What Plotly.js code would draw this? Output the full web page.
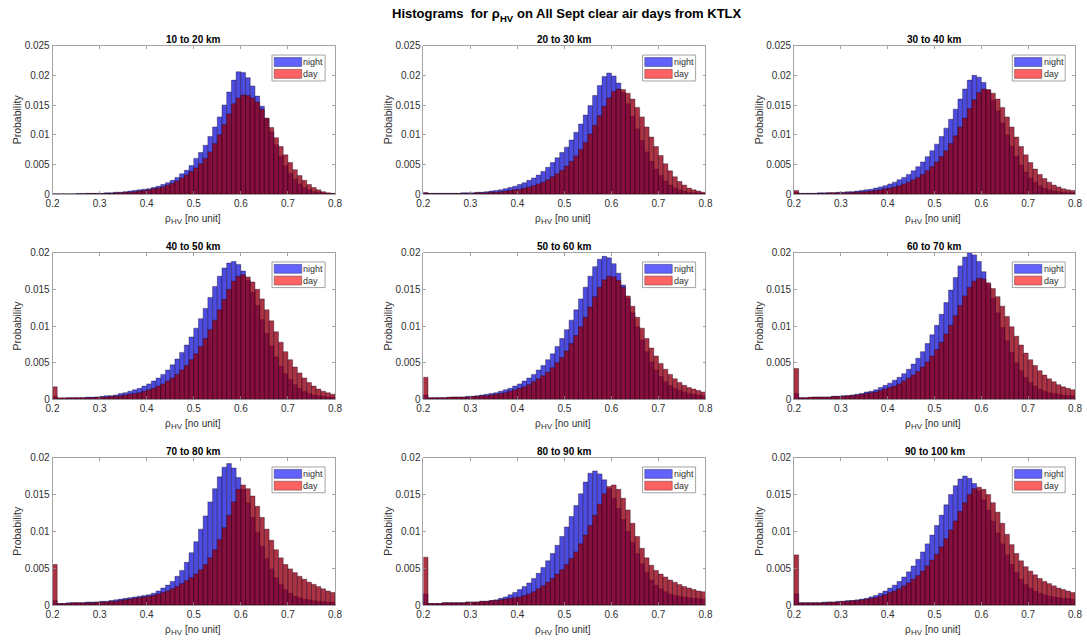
<!DOCTYPE html>
<html>
<head>
<meta charset="utf-8">
<script src="https://cdn.plot.ly/plotly-3.0.1.min.js"></script>
<style>html,body{margin:0;padding:0;background:#fff;}#chart{width:1087px;height:640px;}</style>
</head>
<body>
<div id="chart"></div>
<script>
// Bin centres of rho_HV (bin width 0.01)
const binCenters = [0.205,0.215,0.225,0.235,0.245,0.255,0.265,0.275,0.285,0.295,
0.305,0.315,0.325,0.335,0.345,0.355,0.365,0.375,0.385,0.395,
0.405,0.415,0.425,0.435,0.445,0.455,0.465,0.475,0.485,0.495,
0.505,0.515,0.525,0.535,0.545,0.555,0.565,0.575,0.585,0.595,
0.605,0.615,0.625,0.635,0.645,0.655,0.665,0.675,0.685,0.695,
0.705,0.715,0.725,0.735,0.745,0.755,0.765,0.775,0.785,0.795];

const panelTitles = ['10 to 20 km','20 to 30 km','30 to 40 km','40 to 50 km','50 to 60 km','60 to 70 km','70 to 80 km','80 to 90 km','90 to 100 km'];
const seriesNames = ['night','day'];
const xTickVals = [0.2,0.3,0.4,0.5,0.6,0.7,0.8];
const xTickText = ['0.2','0.3','0.4','0.5','0.6','0.7','0.8'];
const yTickValsTop = [0,0.005,0.01,0.015,0.02,0.025];
const yTickTextTop = ['0','0.005','0.01','0.015','0.02','0.025'];
const yTickVals = [0,0.005,0.01,0.015,0.02];
const yTickText = ['0','0.005','0.01','0.015','0.02'];

const night10 = [0,0,0,0,0,0.0001,0.0001,0.0001,0.0001,0.0001,
0.0001,0.0002,0.0002,0.0003,0.0003,0.0004,0.0005,0.0006,0.0007,0.0008,
0.0009,0.0011,0.0013,0.0016,0.0019,0.0023,0.0028,0.0034,0.0040,0.0048,
0.0060,0.0070,0.0082,0.0097,0.0113,0.0130,0.0150,0.0172,0.0192,0.0206,
0.0205,0.0196,0.0182,0.0165,0.0148,0.0127,0.0105,0.0083,0.0064,0.0048,
0.0035,0.0025,0.0017,0.0011,0.0007,0.0004,0.0003,0.0002,0.0001,0.0001];
const day10 = [0,0,0,0,0,0,0,0.0001,0.0001,0.0001,
0.0001,0.0001,0.0001,0.0002,0.0002,0.0003,0.0003,0.0004,0.0005,0.0006,
0.0007,0.0009,0.0010,0.0012,0.0015,0.0018,0.0022,0.0027,0.0032,0.0038,
0.0044,0.0051,0.0060,0.0071,0.0085,0.0100,0.0117,0.0135,0.0152,0.0162,
0.0167,0.0166,0.0162,0.0155,0.0143,0.0128,0.0112,0.0095,0.0080,0.0066,
0.0053,0.0041,0.0031,0.0023,0.0016,0.0011,0.0007,0.0004,0.0002,0.0001];

const night20 = [0.0002,0.0001,0.0001,0.0001,0.0001,0.0001,0.0001,0.0001,0.0002,0.0002,
0.0002,0.0003,0.0003,0.0004,0.0005,0.0006,0.0007,0.0009,0.0011,0.0013,
0.0016,0.0019,0.0023,0.0027,0.0032,0.0038,0.0045,0.0053,0.0061,0.0070,
0.0079,0.0091,0.0104,0.0118,0.0133,0.0149,0.0166,0.0183,0.0198,0.0204,
0.0199,0.0187,0.0171,0.0152,0.0131,0.0110,0.0090,0.0071,0.0055,0.0042,
0.0031,0.0022,0.0015,0.0010,0.0007,0.0005,0.0003,0.0002,0.0002,0.0001];
const day20 = [0.0002,0.0001,0.0001,0.0001,0.0001,0.0001,0.0001,0.0001,0.0001,0.0001,
0.0001,0.0002,0.0002,0.0002,0.0003,0.0003,0.0004,0.0005,0.0006,0.0007,
0.0008,0.0010,0.0012,0.0014,0.0017,0.0020,0.0024,0.0029,0.0034,0.0040,
0.0047,0.0055,0.0064,0.0075,0.0087,0.0101,0.0116,0.0132,0.0148,0.0162,
0.0173,0.0177,0.0176,0.0170,0.0160,0.0146,0.0130,0.0113,0.0096,0.0080,
0.0065,0.0051,0.0039,0.0029,0.0021,0.0015,0.0010,0.0007,0.0005,0.0003];

const night30 = [0.0003,0.0001,0.0001,0.0001,0.0001,0.0002,0.0002,0.0002,0.0002,0.0003,
0.0003,0.0004,0.0004,0.0005,0.0006,0.0007,0.0008,0.0010,0.0012,0.0014,
0.0017,0.0020,0.0024,0.0028,0.0033,0.0039,0.0046,0.0054,0.0063,0.0073,
0.0084,0.0097,0.0111,0.0126,0.0143,0.0160,0.0177,0.0192,0.0200,0.0197,
0.0188,0.0175,0.0158,0.0140,0.0120,0.0100,0.0081,0.0064,0.0049,0.0037,
0.0027,0.0020,0.0014,0.0010,0.0007,0.0005,0.0004,0.0003,0.0002,0.0002];
const day30 = [0.0006,0.0001,0.0001,0.0001,0.0001,0.0001,0.0001,0.0002,0.0002,0.0002,
0.0002,0.0002,0.0003,0.0003,0.0004,0.0004,0.0005,0.0006,0.0007,0.0009,
0.0010,0.0012,0.0014,0.0017,0.0020,0.0024,0.0028,0.0033,0.0039,0.0046,
0.0054,0.0063,0.0073,0.0085,0.0098,0.0113,0.0128,0.0144,0.0159,0.0171,
0.0177,0.0176,0.0170,0.0160,0.0146,0.0130,0.0113,0.0096,0.0080,0.0066,
0.0053,0.0042,0.0033,0.0026,0.0020,0.0015,0.0012,0.0009,0.0007,0.0006];

const night40 = [0.0004,0.0001,0.0001,0.0002,0.0002,0.0002,0.0002,0.0003,0.0003,0.0003,
0.0004,0.0005,0.0005,0.0006,0.0008,0.0009,0.0011,0.0013,0.0015,0.0018,
0.0021,0.0025,0.0029,0.0034,0.0040,0.0047,0.0055,0.0064,0.0074,0.0085,
0.0097,0.0110,0.0124,0.0139,0.0154,0.0168,0.0179,0.0186,0.0188,0.0184,
0.0175,0.0162,0.0146,0.0128,0.0109,0.0090,0.0073,0.0058,0.0045,0.0035,
0.0027,0.0020,0.0015,0.0011,0.0008,0.0006,0.0005,0.0004,0.0003,0.0003];
const day40 = [0.0017,0.0002,0.0002,0.0002,0.0002,0.0002,0.0002,0.0002,0.0002,0.0003,
0.0003,0.0003,0.0004,0.0004,0.0005,0.0006,0.0007,0.0008,0.0009,0.0011,
0.0013,0.0015,0.0018,0.0021,0.0025,0.0029,0.0034,0.0040,0.0046,0.0054,
0.0062,0.0072,0.0083,0.0095,0.0108,0.0122,0.0136,0.0150,0.0161,0.0168,
0.0170,0.0167,0.0160,0.0150,0.0137,0.0122,0.0107,0.0092,0.0078,0.0065,
0.0054,0.0044,0.0036,0.0029,0.0023,0.0018,0.0014,0.0011,0.0009,0.0007];

const night50 = [0.0006,0.0002,0.0002,0.0002,0.0002,0.0002,0.0003,0.0003,0.0003,0.0004,
0.0004,0.0005,0.0006,0.0007,0.0008,0.0009,0.0011,0.0013,0.0015,0.0018,
0.0021,0.0025,0.0029,0.0034,0.0040,0.0046,0.0054,0.0062,0.0072,0.0083,
0.0095,0.0108,0.0122,0.0137,0.0153,0.0168,0.0181,0.0191,0.0195,0.0193,
0.0185,0.0172,0.0156,0.0138,0.0118,0.0099,0.0081,0.0065,0.0051,0.0040,
0.0031,0.0024,0.0019,0.0015,0.0012,0.0010,0.0008,0.0007,0.0006,0.0005];
const day50 = [0.0030,0.0002,0.0002,0.0002,0.0002,0.0003,0.0003,0.0003,0.0003,0.0003,
0.0004,0.0004,0.0005,0.0005,0.0006,0.0007,0.0008,0.0009,0.0011,0.0013,
0.0015,0.0017,0.0020,0.0024,0.0028,0.0032,0.0037,0.0043,0.0050,0.0057,
0.0066,0.0076,0.0087,0.0099,0.0112,0.0126,0.0140,0.0153,0.0163,0.0168,
0.0167,0.0162,0.0153,0.0141,0.0127,0.0112,0.0097,0.0083,0.0070,0.0059,
0.0049,0.0041,0.0034,0.0028,0.0023,0.0019,0.0016,0.0014,0.0012,0.0010];

const night60 = [0.0008,0.0002,0.0002,0.0002,0.0003,0.0003,0.0003,0.0003,0.0004,0.0004,
0.0005,0.0005,0.0006,0.0007,0.0008,0.0010,0.0011,0.0013,0.0016,0.0019,
0.0022,0.0026,0.0030,0.0035,0.0041,0.0048,0.0056,0.0065,0.0076,0.0088,
0.0101,0.0116,0.0132,0.0149,0.0166,0.0182,0.0194,0.0200,0.0197,0.0188,
0.0174,0.0157,0.0138,0.0118,0.0098,0.0080,0.0064,0.0050,0.0039,0.0030,
0.0023,0.0018,0.0014,0.0011,0.0009,0.0008,0.0007,0.0006,0.0005,0.0005];
const day60 = [0.0042,0.0002,0.0002,0.0003,0.0003,0.0003,0.0003,0.0003,0.0004,0.0004,
0.0004,0.0005,0.0005,0.0006,0.0007,0.0008,0.0009,0.0010,0.0012,0.0014,
0.0016,0.0018,0.0021,0.0025,0.0029,0.0033,0.0038,0.0044,0.0051,0.0059,
0.0068,0.0078,0.0089,0.0101,0.0114,0.0128,0.0141,0.0153,0.0161,0.0165,
0.0164,0.0159,0.0151,0.0140,0.0127,0.0113,0.0099,0.0086,0.0074,0.0063,
0.0054,0.0046,0.0039,0.0033,0.0028,0.0024,0.0020,0.0017,0.0015,0.0013];

const night70 = [0.0006,0.0002,0.0002,0.0003,0.0003,0.0003,0.0003,0.0004,0.0004,0.0004,
0.0005,0.0005,0.0006,0.0007,0.0008,0.0009,0.0010,0.0011,0.0012,0.0013,
0.0014,0.0016,0.0019,0.0023,0.0027,0.0032,0.0039,0.0047,0.0058,0.0071,
0.0086,0.0103,0.0121,0.0140,0.0158,0.0174,0.0187,0.0192,0.0186,0.0173,
0.0157,0.0139,0.0119,0.0099,0.0080,0.0063,0.0049,0.0037,0.0028,0.0021,
0.0016,0.0012,0.0010,0.0008,0.0007,0.0006,0.0005,0.0005,0.0004,0.0004];
const day70 = [0.0055,0.0002,0.0002,0.0002,0.0003,0.0003,0.0003,0.0003,0.0003,0.0004,
0.0004,0.0004,0.0005,0.0005,0.0006,0.0007,0.0008,0.0009,0.0010,0.0011,
0.0012,0.0013,0.0015,0.0017,0.0019,0.0022,0.0025,0.0029,0.0033,0.0037,
0.0042,0.0048,0.0055,0.0064,0.0075,0.0089,0.0105,0.0122,0.0140,0.0157,
0.0163,0.0158,0.0148,0.0134,0.0119,0.0103,0.0088,0.0075,0.0064,0.0055,
0.0049,0.0044,0.0039,0.0035,0.0031,0.0028,0.0025,0.0022,0.0019,0.0017];

const night80 = [0.0015,0.0002,0.0002,0.0002,0.0003,0.0003,0.0003,0.0003,0.0003,0.0004,
0.0004,0.0004,0.0005,0.0005,0.0006,0.0007,0.0009,0.0011,0.0014,0.0017,
0.0021,0.0025,0.0030,0.0036,0.0043,0.0051,0.0060,0.0070,0.0081,0.0093,
0.0106,0.0120,0.0135,0.0151,0.0167,0.0179,0.0182,0.0178,0.0170,0.0158,
0.0145,0.0131,0.0116,0.0100,0.0085,0.0070,0.0056,0.0044,0.0034,0.0027,
0.0022,0.0018,0.0015,0.0013,0.0012,0.0011,0.0010,0.0009,0.0009,0.0008];
const day80 = [0.0065,0.0002,0.0002,0.0002,0.0003,0.0003,0.0003,0.0003,0.0003,0.0004,
0.0004,0.0004,0.0005,0.0005,0.0006,0.0006,0.0007,0.0008,0.0009,0.0010,
0.0011,0.0013,0.0015,0.0018,0.0022,0.0026,0.0031,0.0036,0.0042,0.0048,
0.0055,0.0063,0.0072,0.0083,0.0095,0.0108,0.0122,0.0137,0.0151,0.0161,
0.0163,0.0157,0.0145,0.0129,0.0111,0.0093,0.0077,0.0064,0.0054,0.0047,
0.0042,0.0038,0.0034,0.0031,0.0028,0.0025,0.0023,0.0021,0.0019,0.0018];

const night90 = [0.0015,0.0003,0.0003,0.0003,0.0003,0.0003,0.0004,0.0004,0.0004,0.0005,
0.0005,0.0006,0.0006,0.0007,0.0008,0.0009,0.0011,0.0013,0.0016,0.0019,
0.0023,0.0027,0.0032,0.0038,0.0045,0.0053,0.0062,0.0072,0.0083,0.0095,
0.0108,0.0122,0.0136,0.0150,0.0162,0.0171,0.0175,0.0172,0.0165,0.0155,
0.0143,0.0129,0.0114,0.0098,0.0083,0.0068,0.0055,0.0044,0.0035,0.0028,
0.0023,0.0019,0.0016,0.0014,0.0012,0.0011,0.0010,0.0009,0.0009,0.0008];
const day90 = [0.0068,0.0003,0.0003,0.0003,0.0003,0.0003,0.0003,0.0004,0.0004,0.0004,
0.0005,0.0005,0.0006,0.0006,0.0007,0.0008,0.0009,0.0010,0.0012,0.0014,
0.0017,0.0019,0.0022,0.0026,0.0030,0.0035,0.0040,0.0046,0.0053,0.0061,
0.0069,0.0079,0.0090,0.0102,0.0114,0.0127,0.0139,0.0150,0.0158,0.0160,
0.0157,0.0150,0.0139,0.0126,0.0111,0.0096,0.0082,0.0070,0.0060,0.0052,
0.0046,0.0041,0.0036,0.0032,0.0029,0.0026,0.0023,0.0021,0.0019,0.0017];

const nightSeries = [night10,night20,night30,night40,night50,night60,night70,night80,night90];
const daySeries = [day10,day20,day30,day40,day50,day60,day70,day80,day90];

// ---- layout geometry (pixels of the 1087x640 figure) ----
const W = 1087, H = 640;
const colPx = [[52.5,335],[423.3,705.5],[794,1075]];
const rowPx = [[45.7,194],[252.7,399.3],[457.7,605]];

const FONT = 'Liberation Sans, Arial, Helvetica, sans-serif';
const AXC = '#8c8c8c';
const TXC = '#303030';

const NIGHT_FILL = 'rgb(76,76,224)';
const DAY_FILL = 'rgba(150,0,20,0.8)';
const EDGE = 'rgba(20,0,30,0.6)';

const traces = [];
const layout = {
  width: W, height: H,
  margin: {l:0,r:0,t:0,b:0},
  paper_bgcolor: '#ffffff', plot_bgcolor: '#ffffff',
  barmode: 'overlay', bargap: 0,
  showlegend: false,
  font: {family: FONT, color: TXC, size: 10},
  shapes: [], annotations: []
};

function note(o) { return Object.assign({showarrow: false, borderpad: 0, borderwidth: 0}, o); }

// Figure title, composed so that "HV" sits as a subscript of rho
const titleJoinX = 499.5;
layout.annotations.push(note({text: '<b>Histograms\u00a0 for \u03c1</b>', xref: 'paper', yref: 'paper',
  x: titleJoinX / W, y: 1 - 14/H, xanchor: 'right', yanchor: 'middle',
  font: {family: FONT, size: 13, color: '#000'}}));
layout.annotations.push(note({text: '<b>HV</b>', xref: 'paper', yref: 'paper',
  x: (titleJoinX + 0.5) / W, y: 1 - 18.5/H, xanchor: 'left', yanchor: 'middle',
  font: {family: FONT, size: 9.5, color: '#000'}}));
layout.annotations.push(note({text: '<b>on All Sept clear air days from KTLX</b>', xref: 'paper', yref: 'paper',
  x: (titleJoinX + 13.6 + 3.8) / W, y: 1 - 14/H, xanchor: 'left', yanchor: 'middle',
  font: {family: FONT, size: 13, color: '#000'}}));

for (let i = 0; i < 9; i++) {
  const r = Math.floor(i/3), c = i % 3;
  const n = i === 0 ? '' : String(i+1);
  const xa = 'x' + n, ya = 'y' + n;
  const xd = xa + ' domain', yd = ya + ' domain';
  const top = r === 0;
  traces.push({
    type: 'bar', x: binCenters, y: nightSeries[i], width: 0.01,
    name: seriesNames[0], xaxis: xa, yaxis: ya,
    marker: {color: NIGHT_FILL, line: {color: EDGE, width: 0.6}},
    hoverinfo: 'x+y+name'
  });
  traces.push({
    type: 'bar', x: binCenters, y: daySeries[i], width: 0.01,
    name: seriesNames[1], xaxis: xa, yaxis: ya,
    marker: {color: DAY_FILL, line: {color: EDGE, width: 0.6}},
    hoverinfo: 'x+y+name'
  });
  layout['xaxis' + n] = {
    domain: [colPx[c][0]/W, colPx[c][1]/W], anchor: ya,
    range: [0.2, 0.8], tickvals: xTickVals, ticktext: xTickText,
    ticks: 'inside', ticklen: 3, tickwidth: 0.8, tickcolor: AXC,
    showline: true, linecolor: AXC, linewidth: 0.8, mirror: 'ticks',
    showgrid: false, zeroline: false,
    tickfont: {family: FONT, size: 10, color: TXC}
  };
  layout['yaxis' + n] = {
    domain: [1-rowPx[r][1]/H, 1-rowPx[r][0]/H], anchor: xa,
    range: top ? [0, 0.025] : [0, 0.02],
    tickvals: top ? yTickValsTop : yTickVals, ticktext: top ? yTickTextTop : yTickText,
    ticks: 'inside', ticklen: 3, tickwidth: 0.8, tickcolor: AXC,
    showline: true, linecolor: AXC, linewidth: 0.8, mirror: 'ticks',
    showgrid: false, zeroline: false,
    tickfont: {family: FONT, size: 10, color: TXC},
    title: {text: 'Probability', font: {family: FONT, size: 10.5, color: TXC}, standoff: 0}
  };
  // x-axis label: rho with subscript HV, then [no unit]
  layout.annotations.push(note({text: '\u03c1', xref: xd, yref: yd, x: 0.5, y: 0,
    xanchor: 'right', yanchor: 'middle', xshift: -23.2, yshift: -24.3,
    font: {family: FONT, size: 10, color: TXC}}));
  layout.annotations.push(note({text: 'HV', xref: xd, yref: yd, x: 0.5, y: 0,
    xanchor: 'left', yanchor: 'middle', xshift: -23.2, yshift: -27.5,
    font: {family: FONT, size: 8, color: TXC}}));
  layout.annotations.push(note({text: '[no unit]', xref: xd, yref: yd, x: 0.5, y: 0,
    xanchor: 'left', yanchor: 'middle', xshift: -9.2, yshift: -24.3,
    font: {family: FONT, size: 10, color: TXC}}));
  // panel title
  layout.annotations.push(note({
    text: '<b>' + panelTitles[i] + '</b>', xref: xd, yref: yd,
    x: 0.5, y: 1, xanchor: 'center', yanchor: 'bottom', yshift: 1,
    font: {family: FONT, size: 10, color: '#000'}
  }));
  // legend box (MATLAB style)
  layout.shapes.push({type:'rect', xref: xd, yref: yd, x0: 0.777, x1: 0.965, y0: 0.762, y1: 0.937,
    line: {color: '#8c8c8c', width: 0.8}, fillcolor: '#ffffff', layer: 'above'});
  layout.shapes.push({type:'rect', xref: xd, yref: yd, x0: 0.785, x1: 0.882, y0: 0.860, y1: 0.920,
    line: {color: '#404080', width: 0.6}, fillcolor: '#6262ff', layer: 'above'});
  layout.shapes.push({type:'rect', xref: xd, yref: yd, x0: 0.785, x1: 0.882, y0: 0.780, y1: 0.840,
    line: {color: '#804040', width: 0.6}, fillcolor: '#ff6262', layer: 'above'});
  layout.annotations.push(note({text: seriesNames[0], xref: xd, yref: yd, x: 0.888, y: 0.890,
    xanchor: 'left', yanchor: 'middle', font: {family: FONT, size: 9, color: TXC}}));
  layout.annotations.push(note({text: seriesNames[1], xref: xd, yref: yd, x: 0.888, y: 0.810,
    xanchor: 'left', yanchor: 'middle', font: {family: FONT, size: 9, color: TXC}}));
}

Plotly.newPlot('chart', traces, layout, {staticPlot: true, displayModeBar: false});
</script>
</body>
</html>
